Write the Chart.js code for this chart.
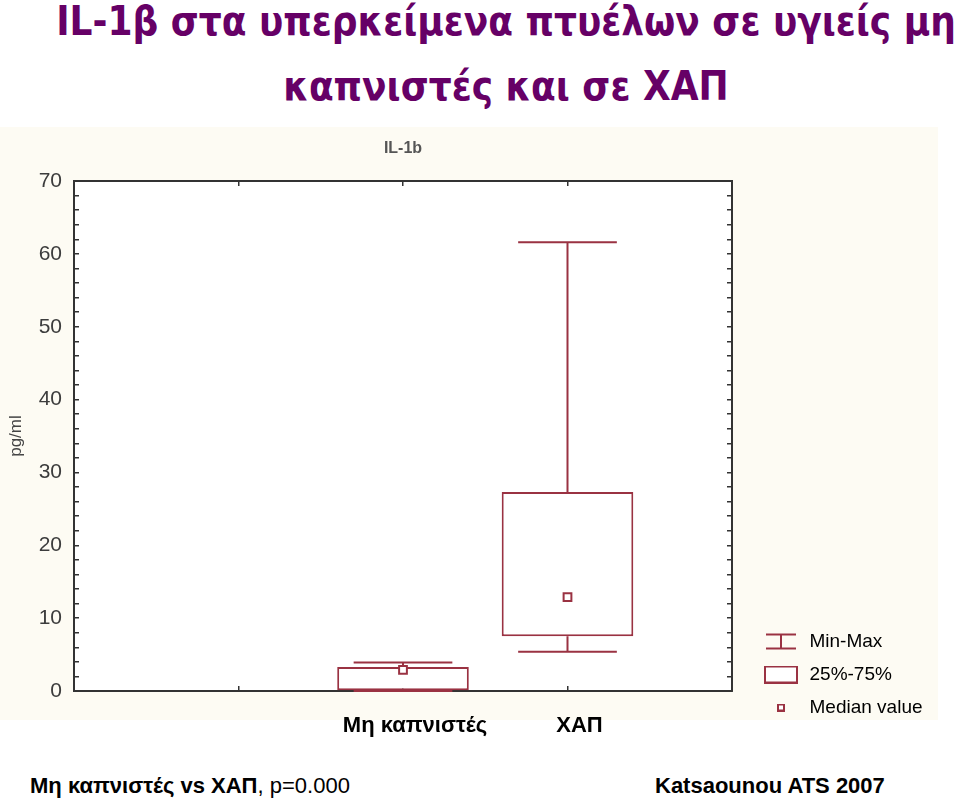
<!DOCTYPE html>
<html>
<head>
<meta charset="utf-8">
<script src="https://cdn.jsdelivr.net/npm/chart.js@4.4.1/dist/chart.umd.min.js"></script>
<style>
  html, body { margin: 0; padding: 0; background: #fff; }
  body { width: 960px; height: 800px; position: relative; overflow: hidden; font-family: "Liberation Sans", Arial, sans-serif; }
  .title { position: absolute; left: 0; width: 1012px; text-align: center; margin: 0;
    font-family: "DejaVu Sans Condensed", "DejaVu Sans", sans-serif; font-stretch: condensed;
    font-weight: bold; font-size: 40px; line-height: 65px; color: #660066; white-space: nowrap; top: -11px; }
  .plate { position: absolute; left: 0; top: 127px; width: 938px; height: 593px; background: #fdfbf3; }
  .chart-box { position: absolute; left: 0; top: 127px; width: 938px; height: 624px; }
  .note { position: absolute; top: 773px; font-size: 22px; color: #000; white-space: nowrap; }
</style>
</head>
<body>
<h1 class="title">IL-1β στα υπερκείμενα πτυέλων σε υγιείς μη<br>καπνιστές και σε ΧΑΠ</h1>
<div class="plate"></div>
<div class="chart-box"><canvas id="boxChart" width="938" height="624"></canvas></div>
<div class="note" style="left:30px"><b>Μη καπνιστές vs ΧΑΠ</b>, p=0.000</div>
<div class="note" style="left:655px"><b>Katsaounou ATS 2007</b></div>

<script>
// x slots: the two groups sit on the 3rd and 4th of five axis positions
const categories = ['', '', 'Μη καπνιστές', 'ΧΑΠ', ''];
const minValues = [null, null, 0.0, 5.4, null];
const q1Values = [null, null, 0.1, 7.5, null];
const medianValues = [null, null, 2.9, 12.9, null];
const q3Values = [null, null, 3.3, 27.3, null];
const maxValues = [null, null, 3.9, 61.6, null];
const yTicks = [0, 10, 20, 30, 40, 50, 60, 70];
const legendLabels = ['Min-Max', '25%-75%', 'Median value'];

const RED = '#9a3242';
const AXIS = '#333333';
const TXT = '#3c3c3c';

// legend icons
function icon(w, h, draw) {
    const c = document.createElement('canvas');
    c.width = w; c.height = h;
    const g = c.getContext('2d');
    g.strokeStyle = RED; g.lineWidth = 2;
    draw(g);
    return c;
}
const iconMinMax = icon(32, 18, g => {
    g.beginPath();
    g.moveTo(1, 2); g.lineTo(31, 2);
    g.moveTo(1, 16); g.lineTo(31, 16);
    g.moveTo(16, 2); g.lineTo(16, 16);
    g.stroke();
});
const iconBox = icon(34, 18, g => { g.fillStyle = '#fff'; g.fillRect(1, 1, 32, 16); g.strokeRect(1, 1, 32, 16); });
const iconMedian = icon(8, 8, g => { g.fillStyle = '#fff'; g.fillRect(1, 1, 6, 6); g.strokeRect(1, 1, 6, 6); });
const legendIcons = [iconMinMax, iconBox, iconMedian];

const plotBg = {
    id: 'plotBg',
    beforeDraw(chart) {
        const { ctx, chartArea: a } = chart;
        ctx.save();
        ctx.fillStyle = '#ffffff';
        ctx.fillRect(a.left, a.top, a.right - a.left, a.bottom - a.top);
        ctx.restore();
    },
    afterLayout(chart) {
        // park the legend below-right of the plot, as in the original figure
        const lg = chart.legend;
        const w = lg.right - lg.left, h = lg.bottom - lg.top;
        lg.left = 748; lg.right = lg.left + w;
        lg.top = 491; lg.bottom = lg.top + Math.max(h, 130);
    }
};

const whiskers = {
    id: 'whiskers',
    beforeDatasetsDraw(chart) {
        const { ctx, scales: { x, y } } = chart;
        const half = (x.getPixelForValue(1) - x.getPixelForValue(0)) * 0.3;
        ctx.save();
        ctx.strokeStyle = RED;
        ctx.lineWidth = 2;
        categories.forEach((c, i) => {
            if (minValues[i] == null) return;
            const px = x.getPixelForValue(i);
            const yMin = y.getPixelForValue(minValues[i]);
            const yMax = y.getPixelForValue(maxValues[i]);
            ctx.beginPath();
            ctx.moveTo(px, yMin); ctx.lineTo(px, y.getPixelForValue(q1Values[i]));
            ctx.moveTo(px, y.getPixelForValue(q3Values[i])); ctx.lineTo(px, yMax);
            ctx.moveTo(px - half, yMin); ctx.lineTo(px + half, yMin);
            ctx.moveTo(px - half, yMax); ctx.lineTo(px + half, yMax);
            ctx.stroke();
        });
        ctx.restore();
    }
};

const minorY = {
    type: 'linear', min: 0, max: 70,
    ticks: { stepSize: 2 },
    grid: { drawOnChartArea: false, tickLength: -5, color: AXIS, lineWidth: 1.5 },
    border: { color: AXIS, width: 2 }
};

new Chart(document.getElementById('boxChart'), {
    type: 'bar',
    data: {
        labels: categories,
        datasets: [{
            label: '25%-75%',
            order: 2,
            data: categories.map((c, i) => q1Values[i] == null ? null : [q1Values[i], q3Values[i]]),
            backgroundColor: '#ffffff',
            borderColor: RED,
            borderWidth: 2,
            borderSkipped: false,
            barPercentage: 0.8,
            categoryPercentage: 1
        }, {
            type: 'line',
            label: 'Median value',
            order: 1,
            data: medianValues,
            showLine: false,
            pointStyle: 'rect',
            pointRadius: 5.5,
            pointBackgroundColor: '#ffffff',
            pointBorderColor: RED,
            pointBorderWidth: 2
        }]
    },
    options: {
        responsive: false,
        animation: false,
        layout: { padding: 0 },
        plugins: {
            tooltip: { enabled: false },
            legend: {
                position: 'chartArea',
                align: 'start',
                labels: {
                    usePointStyle: true,
                    pointStyleWidth: 38,
                    padding: 14,
                    color: '#444',
                    font: { family: 'Liberation Sans', size: 19 },
                    generateLabels: () => legendLabels.map((t, i) => ({
                        text: t, pointStyle: legendIcons[i], fillStyle: '#fff',
                        strokeStyle: RED, lineWidth: 0, hidden: false, datasetIndex: i
                    }))
                }
            }
        },
        scales: {
            x: {
                type: 'category', position: 'bottom', offset: false,
                grid: { offset: false, drawOnChartArea: false, tickLength: -5, color: AXIS, lineWidth: 1.5 },
                border: { color: AXIS, width: 2 },
                ticks: {
                    autoSkip: false, maxRotation: 0, labelOffset: 12, padding: 27,
                    color: '#000', font: { family: 'Liberation Sans', size: 22, weight: 'bold' }
                },
                afterFit: s => { s.height = 60; }
            },
            x2: {
                type: 'category', position: 'top', labels: categories, offset: false,
                grid: { offset: false, drawOnChartArea: false, tickLength: -5, color: AXIS, lineWidth: 1.5 },
                border: { color: AXIS, width: 2 },
                ticks: { display: false },
                title: {
                    display: true, text: 'IL-1b', color: '#555',
                    font: { family: 'Liberation Sans', size: 16, weight: 'bold' },
                    padding: { top: 12, bottom: 0 }
                },
                afterFit: s => { s.height = 54; }
            },
            y: {
                ...minorY,
                position: 'left',
                ticks: {
                    stepSize: 2, padding: 17, autoSkip: false,
                    color: TXT, font: { family: 'Liberation Sans', size: 21 },
                    callback: v => yTicks.includes(v) ? v : ''
                },
                title: {
                    display: true, text: 'pg/ml', color: '#444',
                    font: { family: 'Liberation Sans', size: 17 },
                    padding: { top: 6, bottom: 0 }
                },
                afterFit: s => { s.width = 74; }
            },
            y2: {
                ...minorY,
                position: 'right',
                ticks: { stepSize: 2, display: false },
                afterFit: s => { s.width = s.chart.width - 732; }
            }
        }
    },
    plugins: [plotBg, whiskers]
});
</script>
</body>
</html>
